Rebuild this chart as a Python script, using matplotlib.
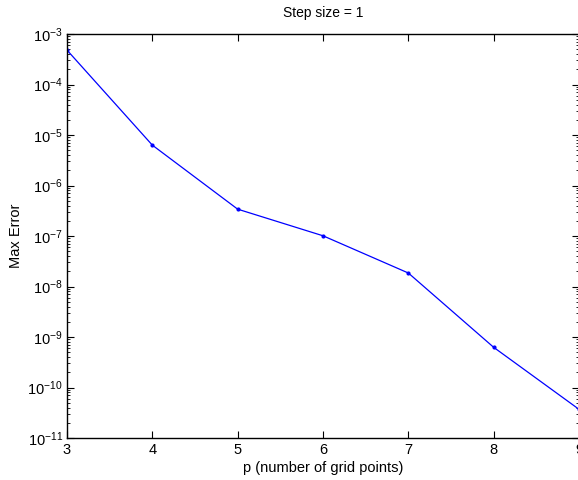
import matplotlib
matplotlib.use("Agg")
import matplotlib.pyplot as plt
import numpy as np

p_values = [3, 4, 5, 6, 7, 8, 9]
max_error = [4.8e-4, 6.3e-6, 3.4e-7, 1.01e-7, 1.85e-8, 6.25e-10, 3.7e-11]
x_ticks = [3, 4, 5, 6, 7, 8, 9]
y_ticks = [1e-11, 1e-10, 1e-9, 1e-8, 1e-7, 1e-6, 1e-5, 1e-4, 1e-3]

plt.rcParams['font.family'] = ['Liberation Sans', 'DejaVu Sans']
plt.rcParams['mathtext.fontset'] = 'custom'
plt.rcParams['mathtext.rm'] = 'Liberation Sans'
plt.rcParams['mathtext.it'] = 'Liberation Sans'

fig = plt.figure(figsize=(5.78, 4.8), dpi=100)
W, H = 578, 480
left, right, top, bottom = 67, 579, 34, 438
ax = fig.add_axes([left / W, 1 - bottom / H, (right - left) / W, (bottom - top) / H])

ax.plot(p_values, max_error, color='#0000ff', marker='.', markersize=4, linewidth=0.9)
ax.set_yscale('log')
ax.set_xlim(3, 9)
ax.set_ylim(1e-11, 1e-3)
ax.set_xticks(x_ticks)
ax.set_yticks(y_ticks)
ax.yaxis.set_minor_locator(matplotlib.ticker.LogLocator(base=10, subs=np.arange(2, 10), numticks=20))
ax.yaxis.set_minor_formatter(matplotlib.ticker.NullFormatter())
ax.tick_params(which='both', direction='in', top=True, right=True, labelsize=10.5)
ax.tick_params(axis='y', which='major', pad=3)
ax.tick_params(which='major', length=5, width=0.8)
ax.tick_params(which='minor', length=2.5, width=0.6)
for s in ax.spines.values():
    s.set_linewidth(1.0)

ax.set_title('Step size = 1', fontsize=10, pad=12)
ax.set_xlabel('p (number of grid points)', fontsize=10.5, labelpad=3)
ax.set_ylabel('Max Error', fontsize=10.5, labelpad=3)

fig.savefig('out.png', dpi=100)
